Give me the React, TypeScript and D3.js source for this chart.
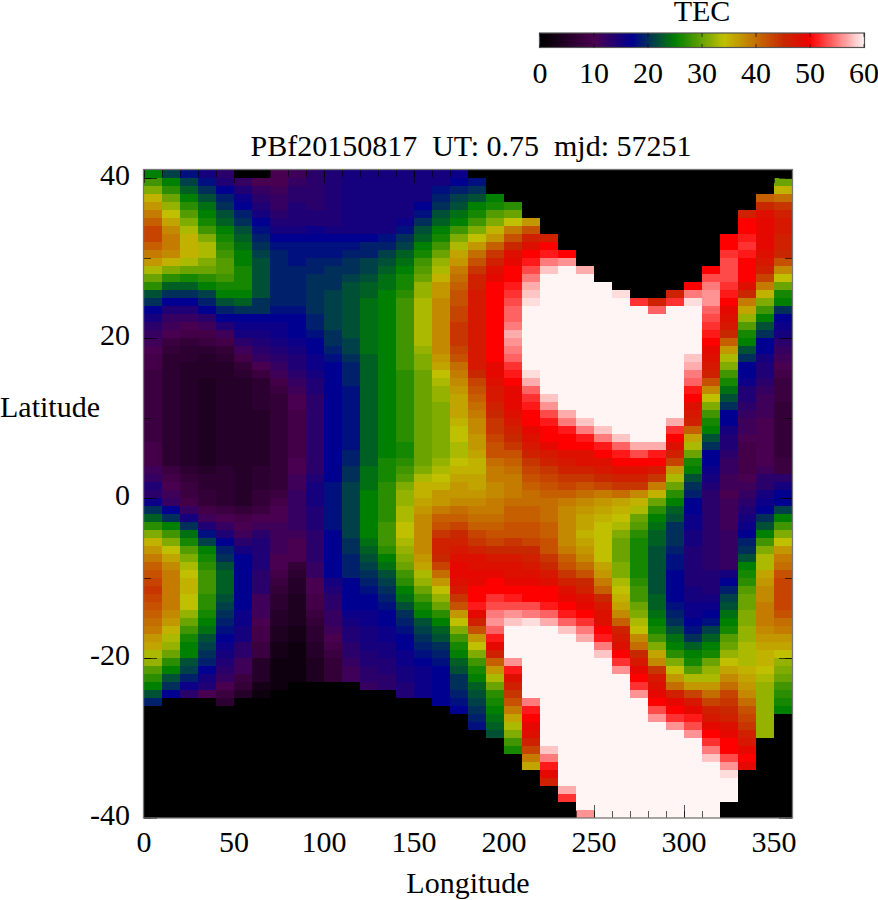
import React, { useEffect, useRef } from 'react';
import * as d3 from 'd3';

// TEC per longitude column, one value per degree of latitude, from 40 down to -40
const lon000 = [25,28,31,35,37,39,41,43,43,41, 39,37,33,30,27,22,20,17,15,13, 12,11,10,9,9,8,8,8,8,8, 8,8,8,8,9,9,9,11,12,14, 13,16,20,23,27,31,35,37,39,41, 42,43,44,43,42,41,40,39,37,36, 33,32,29,27,25,22,19,0,0,0, 0,0,0,0,0,0,0,0,0,0, 0];
const lon010 = [21,25,27,30,32,34,36,38,39,39, 38,35,31,27,23,20,17,14,12,11, 10,8,7,6,6,6,6,6,6,6, 6,6,6,6,6,6,6,8,9,10, 11,12,17,20,25,28,31,34,36,38, 39,39,39,39,39,38,37,35,33,32, 30,27,25,22,20,17,0,0,0,0, 0,0,0,0,0,0,0,0,0,0, 0];
const lon020 = [18,21,23,25,27,29,31,33,35,35, 35,33,30,26,23,20,17,14,12,10, 9,7,6,6,5,5,5,5,5,5, 5,5,5,5,5,5,5,6,7,8, 8,9,12,15,20,24,26,29,31,33, 34,35,35,34,34,32,30,28,26,25, 25,22,21,19,16,13,0,0,0,0, 0,0,0,0,0,0,0,0,0,0, 0];
const lon030 = [15,18,20,22,24,25,26,28,31,33, 33,31,30,27,25,21,19,17,13,11, 9,8,6,5,5,5,4,4,4,4, 4,4,4,4,4,4,4,5,6,6, 7,7,9,11,14,18,21,25,26,27, 28,28,28,27,27,26,25,24,22,21, 20,19,17,15,14,10,0,0,0,0, 0,0,0,0,0,0,0,0,0,0, 0];
const lon040 = [13,14,17,19,20,22,23,25,26,27, 28,29,29,28,26,25,22,19,17,14, 11,9,7,6,5,5,5,5,5,5, 5,5,5,5,5,5,5,6,6,6, 6,6,8,10,12,14,17,19,20,22, 23,23,23,22,21,20,19,18,17,16, 15,14,13,12,10,8,6,0,0,0, 0,0,0,0,0,0,0,0,0,0, 0];
const lon050 = [0,12,14,16,17,19,20,22,23,24, 25,25,26,26,26,25,23,20,17,16, 15,13,11,9,7,6,5,5,5,5, 5,5,5,5,5,5,5,5,5,5, 5,5,7,9,10,11,13,15,17,17, 17,17,17,17,17,16,16,15,15,13, 13,11,11,8,7,5,0,0,0,0, 0,0,0,0,0,0,0,0,0,0, 0];
const lon060 = [0,10,12,13,14,15,17,18,19,20, 21,22,22,22,22,22,20,20,17,16, 15,14,13,12,10,8,6,6,6,6, 5,5,5,5,5,5,5,6,6,6, 7,7,8,10,11,13,14,14,14,14, 13,13,13,11,11,11,10,9,9,8, 8,5,5,5,3,2,0,0,0,0, 0,0,0,0,0,0,0,0,0,0, 0];
const lon070 = [10,10,11,12,12,13,14,15,17,18, 19,19,19,19,19,19,19,18,17,16, 16,15,14,13,12,11,9,8,7,7, 7,7,7,7,7,7,7,7,7,7, 8,9,10,10,11,11,11,11,10,10, 9,8,7,6,6,5,5,4,4,3, 3,2,2,2,2,0,0,0,0,0, 0,0,0,0,0,0,0,0,0,0, 0];
const lon080 = [11,12,13,13,14,14,14,15,17,18, 18,18,19,19,19,19,19,18,17,17, 17,16,15,14,14,13,12,11,10,10, 9,9,9,9,9,9,10,10,11,11, 12,12,12,12,12,11,10,10,10,7, 6,5,5,4,4,4,4,3,3,2, 2,2,2,2,0,0,0,0,0,0, 0,0,0,0,0,0,0,0,0,0, 0];
const lon090 = [13,13,13,13,13,14,14,16,17,18, 18,19,19,20,20,20,20,20,19,19, 18,17,17,16,16,15,14,14,13,13, 13,13,13,13,13,13,13,13,14,15, 15,15,14,14,14,13,13,13,13,12, 12,10,10,9,9,8,7,6,6,5, 5,4,4,4,0,0,0,0,0,0, 0,0,0,0,0,0,0,0,0,0, 0];
const lon100 = [14,14,14,14,14,14,14,15,17,18, 18,19,20,20,20,21,21,21,21,21, 20,20,19,18,17,17,17,17,17,17, 17,17,17,17,17,17,17,17,17,18, 18,18,18,18,18,17,17,17,17,17, 17,15,14,13,13,12,12,11,10,9, 8,7,7,7,0,0,0,0,0,0, 0,0,0,0,0,0,0,0,0,0, 0];
const lon110 = [15,15,15,15,15,15,15,15,17,18, 19,20,20,21,22,22,22,22,22,22, 22,21,21,20,19,19,19,18,18,18, 18,18,18,18,18,19,19,20,20,21, 21,21,21,21,21,21,20,20,19,19, 19,17,17,17,17,16,15,14,14,13, 13,12,11,11,0,0,0,0,0,0, 0,0,0,0,0,0,0,0,0,0, 0];
const lon120 = [15,15,15,15,15,15,15,15,17,19, 19,21,21,22,23,23,24,24,24,24, 24,24,24,23,23,23,23,23,23,23, 23,23,23,23,23,23,23,24,24,24, 25,25,25,25,25,25,24,23,22,21, 20,19,18,17,17,16,16,15,15,15, 14,14,13,13,12,0,0,0,0,0, 0,0,0,0,0,0,0,0,0,0, 0];
const lon130 = [15,15,15,15,15,15,15,15,18,19, 21,22,23,24,24,25,25,25,25,25, 25,25,25,25,25,25,25,25,25,25, 25,25,25,25,25,25,26,26,26,27, 27,27,27,27,28,28,28,27,25,24, 22,21,20,19,18,17,17,16,16,15, 15,14,14,13,13,0,0,0,0,0, 0,0,0,0,0,0,0,0,0,0, 0];
const lon140 = [15,15,15,15,15,15,16,18,20,21, 23,24,25,26,26,27,28,28,28,28, 28,28,28,28,28,27,27,27,27,27, 27,27,27,27,26,26,27,28,29,31, 32,32,33,33,34,34,33,32,31,30, 28,27,25,24,22,20,19,18,17,17, 16,16,15,15,14,14,0,0,0,0, 0,0,0,0,0,0,0,0,0,0, 0];
const lon150 = [15,15,15,15,17,18,20,22,23,25, 26,28,29,30,32,32,33,33,33,33, 33,33,32,31,31,30,30,30,30,30, 30,30,30,30,30,30,30,31,33,35, 35,36,37,38,38,38,38,38,37,36, 33,32,30,28,26,25,22,21,20,19, 18,17,16,16,16,16,0,0,0,0, 0,0,0,0,0,0,0,0,0,0, 0];
const lon160 = [15,15,18,19,20,22,23,25,26,28, 30,32,33,35,37,37,38,38,38,38, 38,38,38,37,36,34,33,32,32,31, 31,31,31,31,31,31,32,33,34,35, 37,37,39,41,42,44,46,46,45,43, 40,37,34,32,30,27,25,23,22,20, 19,18,17,17,17,17,17,0,0,0, 0,0,0,0,0,0,0,0,0,0, 0];
const lon170 = [16,17,19,21,22,24,25,28,31,33, 36,37,39,40,41,42,42,43,43,44, 44,44,43,42,40,39,38,37,36,36, 36,35,34,34,33,33,34,35,36,37, 37,38,40,41,43,45,46,47,48,49, 49,48,47,44,42,37,34,31,28,26, 25,23,22,20,20,19,18,17,0,0, 0,0,0,0,0,0,0,0,0,0, 0];
const lon180 = [0,18,20,22,25,26,28,31,34,37, 40,42,44,46,46,47,47,47,47,47, 47,47,47,47,47,45,43,42,41,40, 39,38,38,37,37,36,35,35,36,36, 37,38,39,40,41,43,44,46,48,48, 49,49,50,50,51,49,46,42,37,34, 31,28,26,25,23,22,21,20,19,18, 0,0,0,0,0,0,0,0,0,0, 0];
const lon190 = [0,0,0,25,26,29,31,35,37,41, 44,46,48,49,50,50,50,50,50,50, 50,50,50,50,49,49,48,47,47,46, 45,44,44,43,42,42,40,39,39,38, 38,39,39,40,41,42,43,45,47,48, 49,50,50,52,53,55,56,54,51,49, 46,41,37,33,30,27,26,25,24,23, 22,0,0,0,0,0,0,0,0,0, 0];
const lon200 = [0,0,0,0,27,30,34,39,42,45, 48,49,50,50,51,52,53,54,54,55, 57,56,55,54,52,51,50,49,49,49, 48,47,46,45,44,42,41,40,39,39, 39,40,41,41,42,42,44,45,47,48, 48,49,50,51,53,56,58,60,60,60, 60,56,51,48,46,44,42,39,36,33, 31,28,26,0,0,0,0,0,0,0, 0];
const lon210 = [0,0,0,0,0,0,37,42,46,48, 50,51,53,55,57,58,59,60,60,60, 60,60,60,60,60,59,57,54,52,51, 50,50,49,48,47,46,44,43,42,41, 40,40,41,41,42,42,43,45,46,47, 48,49,50,50,53,55,59,60,60,60, 60,60,60,60,60,60,55,51,50,49, 48,46,43,39,36,0,0,0,0,0, 0];
const lon220 = [0,0,0,0,0,0,0,0,46,50, 51,55,58,60,60,60,60,60,60,60, 60,60,60,60,60,60,60,60,58,56, 53,51,50,50,49,47,46,44,43,42, 41,40,40,40,41,41,42,42,44,45, 47,48,50,50,51,54,57,60,60,60, 60,60,60,60,60,60,60,60,60,60, 60,60,58,55,51,49,46,0,0,0, 0];
const lon230 = [0,0,0,0,0,0,0,0,0,0, 50,56,60,60,60,60,60,60,60,60, 60,60,60,60,60,60,60,60,60,60, 57,55,51,50,50,48,47,46,44,43, 41,39,38,38,38,38,38,39,41,42, 44,46,48,49,50,51,54,58,60,60, 60,60,60,60,60,60,60,60,60,60, 60,60,60,60,60,60,60,57,52,0, 0];
const lon240 = [0,0,0,0,0,0,0,0,0,0, 0,0,57,60,60,60,60,60,60,60, 60,60,60,60,60,60,60,60,60,60, 60,58,55,51,50,48,48,46,44,42, 40,38,37,36,36,35,36,37,38,40, 42,45,46,48,49,50,52,55,57,60, 60,60,60,60,60,60,60,60,60,60, 60,60,60,60,60,60,60,60,60,60, 56];
const lon250 = [0,0,0,0,0,0,0,0,0,0, 0,0,0,0,60,60,60,60,60,60, 60,60,60,60,60,60,60,60,60,60, 60,60,58,55,51,50,48,47,45,43, 39,37,36,35,34,34,34,34,34,36, 37,39,41,45,47,48,48,50,51,55, 58,60,60,60,60,60,60,60,60,60, 60,60,60,60,60,60,60,60,60,60, 60];
const lon260 = [0,0,0,0,0,0,0,0,0,0, 0,0,0,0,0,59,60,60,60,60, 60,60,60,60,60,60,60,60,60,60, 60,60,60,58,54,51,50,48,46,44, 40,36,35,34,33,31,30,30,30,31, 31,33,34,35,36,38,41,46,47,48, 50,52,56,60,60,60,60,60,60,60, 60,60,60,60,60,60,60,60,60,60, 60];
const lon270 = [0,0,0,0,0,0,0,0,0,0, 0,0,0,0,0,0,52,60,60,60, 60,60,60,60,60,60,60,60,60,60, 60,60,60,60,57,53,50,48,46,44, 38,35,33,30,29,27,26,26,26,26, 26,27,28,28,30,31,33,34,38,40, 45,47,49,50,52,56,60,60,60,60, 60,60,60,60,60,60,60,60,60,60, 60];
const lon280 = [0,0,0,0,0,0,0,0,0,0, 0,0,0,0,0,0,46,54,60,60, 60,60,60,60,60,60,60,60,60,60, 60,60,60,60,57,51,50,47,44,39, 35,30,27,25,24,23,23,22,22,22, 22,22,22,23,23,24,25,26,28,31, 36,38,44,47,48,49,50,53,56,60, 60,60,60,60,60,60,60,60,60,60, 60];
const lon290 = [0,0,0,0,0,0,0,0,0,0, 0,0,0,0,0,46,52,60,60,60, 60,60,60,60,60,60,60,60,60,60, 60,57,52,50,48,46,43,37,33,30, 27,25,23,22,20,20,20,19,18,18, 17,17,17,17,18,19,20,22,24,25, 27,31,34,37,40,46,49,50,52,56, 60,60,60,60,60,60,60,60,60,60, 60];
const lon300 = [0,0,0,0,0,0,0,0,0,0, 0,0,0,0,50,55,59,60,60,60, 60,60,60,58,57,55,54,51,50,48, 47,46,41,36,33,30,26,25,22,20, 19,17,17,16,16,15,15,14,14,14, 14,14,15,15,16,16,17,18,20,23, 25,26,29,33,37,43,47,49,51,53, 56,60,60,60,60,60,60,60,60,60, 60];
const lon310 = [0,0,0,0,0,0,0,0,0,0, 0,0,50,53,55,56,56,54,53,52, 51,50,49,48,47,46,42,38,34,31, 28,26,25,22,20,17,17,16,15,14, 13,13,13,13,13,13,13,13,13,13, 14,14,14,15,16,17,18,21,23,25, 26,30,32,33,37,40,43,46,47,49, 50,52,55,58,60,60,60,60,60,60, 60];
const lon320 = [0,0,0,0,0,0,0,0,50,50, 52,53,53,53,52,51,50,49,48,47, 45,41,37,33,31,28,26,24,22,20, 17,17,15,14,14,13,12,12,11,11, 10,11,11,11,11,12,12,12,12,12, 15,17,19,21,22,24,25,26,29,30, 32,34,36,38,40,43,44,45,46,48, 49,50,50,53,56,59,60,60,60,0, 0];
const lon330 = [0,0,0,0,0,46,50,50,51,52, 51,50,50,50,48,45,39,36,32,29, 26,25,22,20,17,17,16,14,14,13, 12,11,11,10,9,9,9,9,10,11, 12,13,14,15,16,17,19,20,22,25, 26,27,29,30,30,31,31,32,32,33, 33,33,35,36,37,38,40,42,43,44, 46,47,49,50,49,0,0,0,0,0, 0];
const lon340 = [0,0,0,41,45,48,49,49,49,49, 48,47,46,43,39,35,31,28,25,22, 20,17,17,15,14,14,13,12,11,11, 11,10,10,10,10,10,10,11,13,13, 15,16,17,20,22,25,28,31,33,33, 36,37,38,38,39,39,39,38,37,36, 35,35,34,33,32,32,32,32,32,32, 32,0,0,0,0,0,0,0,0,0, 0];
const lon350 = [0,30,35,40,44,46,47,47,46,46, 45,42,38,34,30,26,25,20,17,16, 15,13,12,11,10,9,8,8,8,7, 7,7,7,7,7,7,8,8,13,15, 17,17,21,25,28,31,34,37,39,40, 42,43,43,43,43,42,40,39,37,36, 34,32,31,30,28,27,26,25,0,0, 0,0,0,0,0,0,0,0,0,0, 0];

const columns = [
    lon000, lon010, lon020, lon030, lon040, lon050, lon060, lon070, lon080, lon090, lon100, lon110,
    lon120, lon130, lon140, lon150, lon160, lon170, lon180, lon190, lon200, lon210, lon220, lon230,
    lon240, lon250, lon260, lon270, lon280, lon290, lon300, lon310, lon320, lon330, lon340, lon350,
];

const paletteValues = [0, 10, 17, 25, 34, 45, 49, 50, 60];
const paletteColors = ['#000000', '#4a0050', '#000090', '#008000', '#c0c000', '#c82800', '#e40800', '#ff0000', '#fff5f5'];
const colorTicks = [0, 10, 20, 30, 40, 50, 60];
const lonMajor = [0, 50, 100, 150, 200, 250, 300, 350];
const lonMinor = d3.range(0, 361, 10);
const latMajor = [-40, -20, 0, 20, 40];
const latMinor = d3.range(-40, 41, 10);

const FONT = '"Liberation Serif", "Times New Roman", serif';
const FONT_SIZE = 30;

const App = () => {
    const ref = useRef<SVGSVGElement | null>(null);

    useEffect(() => {
        const svg = d3.select(ref.current);
        svg.selectAll('*').remove();

        const x = d3.scaleLinear().domain([0, 360]).range([144, 792]);
        const y = d3.scaleLinear().domain([-40, 41]).range([818, 170]);
        const color = d3.scaleLinear<string>().domain(paletteValues).range(paletteColors).clamp(true);

        // Heat map cells
        const cells = columns.flatMap((values, col) =>
            values.map((value, row) => ({ lon: col * 10, lat: 40 - row, value })));
        svg.append('g').attr('shape-rendering', 'crispEdges')
            .selectAll('rect').data(cells).enter()
            .append('rect')
            .attr('x', (d) => x(d.lon))
            .attr('y', (d) => y(d.lat + 1))
            .attr('width', (d) => x(d.lon + 10) - x(d.lon))
            .attr('height', (d) => y(d.lat) - y(d.lat + 1))
            .attr('fill', (d) => color(d.value));

        // Tick marks on all four sides, pointing inwards
        const drawTicks = (axis: any, scale: any, values: number[], size: number, tx: number, ty: number) => {
            const g = svg.append('g').attr('transform', `translate(${tx},${ty})`)
                .call(axis(scale).tickValues(values).tickSize(size).tickFormat(() => ''));
            g.select('.domain').remove();
            g.selectAll('line').attr('stroke', '#000').attr('stroke-opacity', 0.65);
        };
        drawTicks(d3.axisBottom, x, lonMinor, -7, 0, 818);
        drawTicks(d3.axisBottom, x, lonMajor, -13, 0, 818);
        drawTicks(d3.axisTop, x, lonMinor, -7, 0, 170);
        drawTicks(d3.axisTop, x, lonMajor, -13, 0, 170);
        drawTicks(d3.axisLeft, y, latMinor, -7, 144, 0);
        drawTicks(d3.axisLeft, y, latMajor, -13, 144, 0);
        drawTicks(d3.axisRight, y, latMinor, -7, 792, 0);
        drawTicks(d3.axisRight, y, latMajor, -13, 792, 0);

        // Frame
        svg.append('rect')
            .attr('x', 143.5).attr('y', 169.5).attr('width', 649).attr('height', 648.5)
            .attr('fill', 'none').attr('stroke', '#777').attr('stroke-width', 1.3);

        const label = (text: string, tx: number, ty: number, anchor: string) =>
            svg.append('text')
                .attr('x', tx).attr('y', ty)
                .attr('text-anchor', anchor)
                .attr('font-family', FONT).attr('font-size', FONT_SIZE).attr('fill', '#000')
                .style('white-space', 'pre')
                .text(text);

        lonMajor.forEach((v) => label(String(v), x(v), 852, 'middle'));
        latMajor.forEach((v) => label(String(v), 130, y(v) + 7, 'end'));
        label('Longitude', 468, 893, 'middle');
        label('Latitude', 0, 417, 'start');
        label('PBf20150817  UT: 0.75  mjd: 57251', 471, 156, 'middle');

        // Colour bar
        const barX = d3.scaleLinear().domain([0, 60]).range([540, 864]);
        svg.append('g').attr('shape-rendering', 'crispEdges')
            .selectAll('rect').data(d3.range(0, 60, 0.2)).enter()
            .append('rect')
            .attr('x', (d) => barX(d))
            .attr('y', 33)
            .attr('width', barX(0.2) - barX(0) + 0.5)
            .attr('height', 14.5)
            .attr('fill', (d) => color(d));
        svg.append('rect')
            .attr('x', 539.5).attr('y', 33).attr('width', 325).attr('height', 14.5)
            .attr('fill', 'none').attr('stroke', '#555').attr('stroke-width', 1.2);
        colorTicks.forEach((v) => {
            [[33, 37], [44, 47.5]].forEach(([y1, y2]) => {
                svg.append('line')
                    .attr('x1', barX(v)).attr('x2', barX(v)).attr('y1', y1).attr('y2', y2)
                    .attr('stroke', '#000').attr('stroke-opacity', 0.65);
            });
            label(String(v), barX(v), 83, 'middle');
        });
        label('TEC', 702, 21, 'middle');
    }, []);

    return (
        <svg ref={ref} width={878} height={900}
            style={{ position: 'absolute', left: 0, top: 0, background: '#fff' }} />
    );
};

export default App;
